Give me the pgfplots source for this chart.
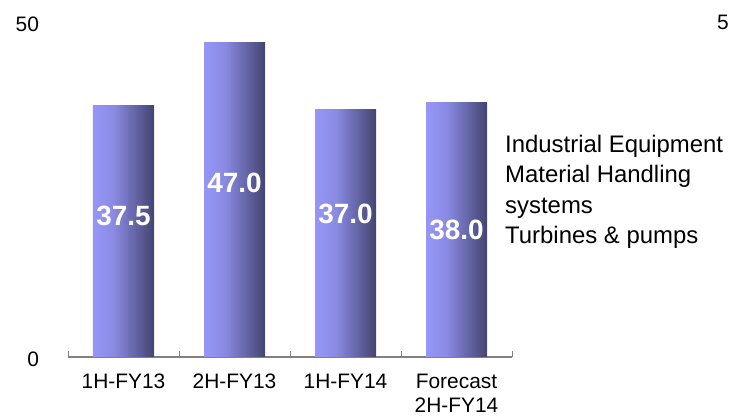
\documentclass[border=0pt]{standalone}
\usepackage{fontspec}
\setmainfont{Liberation Sans}
\usepackage{pgfplots}
\pgfplotsset{compat=1.18}
\definecolor{barA}{RGB}{150,150,248}
\definecolor{barB}{RGB}{138,138,228}
\definecolor{barC}{RGB}{68,68,112}
\definecolor{axisgray}{RGB}{128,128,128}
\pgfdeclarehorizontalshading{barshade}{100bp}{color(0bp)=(barA); color(25bp)=(barA); color(42bp)=(barB); color(75bp)=(barC); color(100bp)=(barC)}
\begin{document}
\begin{tikzpicture}
\useasboundingbox (0,0) rectangle (729bp,418bp);
\begin{axis}[
  at={(68bp,61bp)}, anchor=south west,
  scale only axis, width=444bp, height=335bp,
  xmin=-0.5, xmax=3.5, ymin=0, ymax=50,
  axis x line*=bottom, axis y line*=left,
  x axis line style={draw=axisgray, line width=1.3bp},
  y axis line style={draw=none},
  xtick={0,1,2,3},
  xticklabels={1H-FY13,2H-FY13,1H-FY14,{Forecast\\2H-FY14}},
  major x tick style={draw=none},
  minor xtick={-0.5,0.5,1.5,2.5,3.5},
  minor x tick style={draw=axisgray, line width=1bp},
  minor tick length=6bp,
  tick align=inside,
  ytick={0,50},
  major y tick style={draw=none},
  xticklabel style={font=\fontsize{21}{24.5}\selectfont, align=center, anchor=north, yshift=-13.5bp},
  yticklabel style={font=\fontsize{21}{25}\selectfont, anchor=east, xshift=-25.5bp, yshift=-2bp},
  /pgf/number format/assume math mode=true,
  clip=false,
  bar shift=0pt,
]
\addplot[ybar, bar width=61bp, draw=none, shading=barshade] coordinates {(0,37.5)};
\addplot[ybar, bar width=61bp, draw=none, shading=barshade] coordinates {(1,47.0)};
\addplot[ybar, bar width=61bp, draw=none, shading=barshade] coordinates {(2,37.0)};
\addplot[ybar, bar width=61bp, draw=none, shading=barshade] coordinates {(3,38.0)};
\node[text=white, font=\fontsize{28}{32}\selectfont\bfseries] at (axis cs:0,21.04) {37.5};
\node[text=white, font=\fontsize{28}{32}\selectfont\bfseries] at (axis cs:1,25.97) {47.0};
\node[text=white, font=\fontsize{28}{32}\selectfont\bfseries] at (axis cs:2,21.3) {37.0};
\node[text=white, font=\fontsize{28}{32}\selectfont\bfseries] at (axis cs:3,19.03) {38.0};
\end{axis}
\node[anchor=base west, inner sep=0pt, font=\fontsize{24}{30.5}\selectfont, align=left] at (505bp,174.5bp) {Industrial Equipment\\Material Handling\\systems\\Turbines \& pumps};
\node[anchor=base west, inner sep=0pt, font=\fontsize{21}{25}\selectfont] at (717bp,388bp) {5};
\end{tikzpicture}
\end{document}
